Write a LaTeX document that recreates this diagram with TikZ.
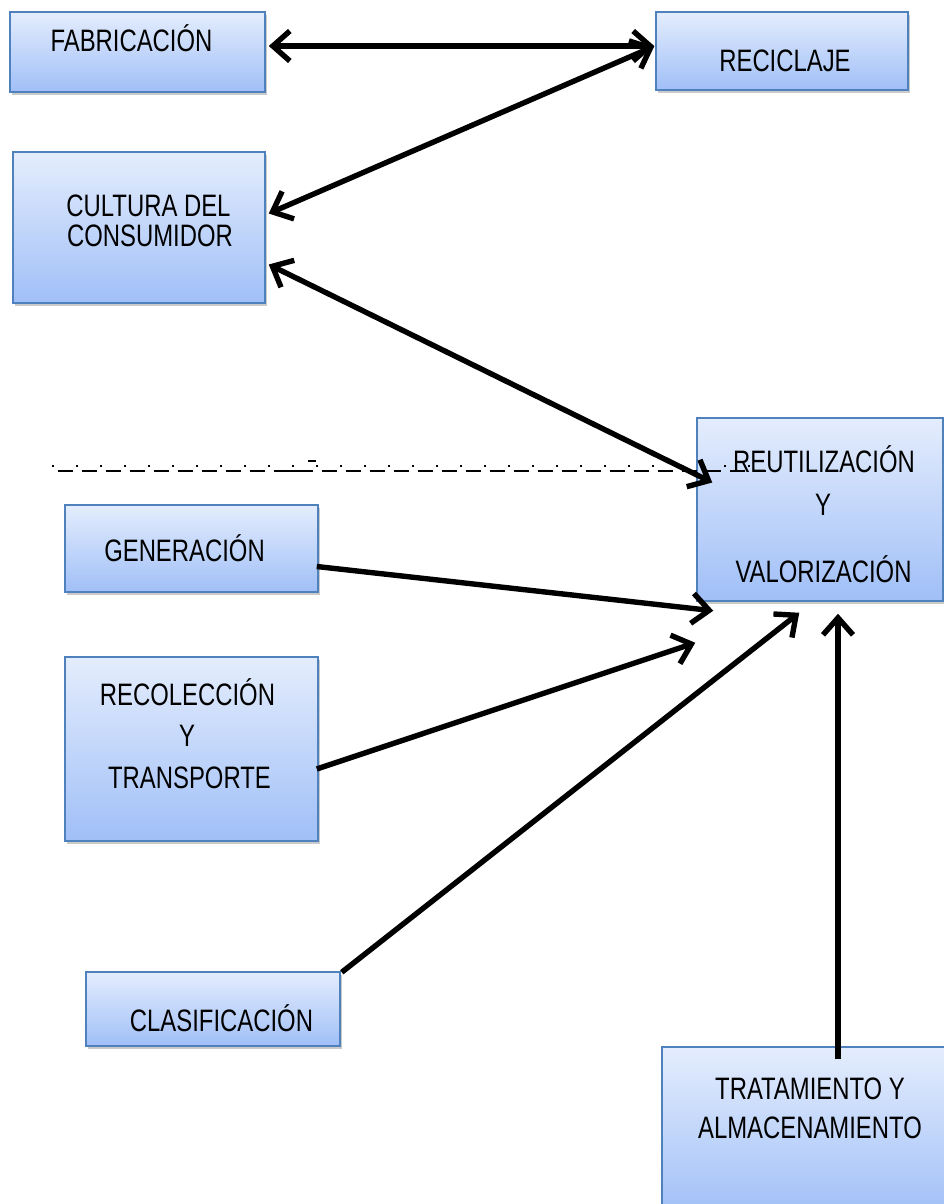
\documentclass[tikz,border=0pt]{standalone}
\usepackage{fontspec}
\setmainfont[FakeStretch=0.77]{Liberation Sans}
\usetikzlibrary{arrows.meta,shadows}
\definecolor{boxtop}{RGB}{228,237,253}
\definecolor{boxbot}{RGB}{160,191,247}
\definecolor{boxline}{RGB}{79,129,189}

\begin{document}
\begin{tikzpicture}[x=1pt,y=-1pt,
  box/.style={rectangle, draw=boxline, line width=1.5pt, inner sep=0pt,
    top color=boxtop, bottom color=boxbot,
    drop shadow={shadow xshift=2pt, shadow yshift=-3pt, opacity=0.35, fill=black!60}},
  lbl/.style={anchor=base, inner sep=0pt, font=\fontsize{31}{31}\selectfont},
  barb/.tip={Straight Barb[length=17pt, width=30pt, line width=5.4pt]},
  link/.style={line width=5.4pt, -barb},
  dlink/.style={line width=5.4pt, barb-barb},
  rule/.style={line width=1.8pt}]

\useasboundingbox (0,0) rectangle (944,1204);
\clip (0,0) rectangle (944,1204);

% boxes
\node[box, minimum width=255pt, minimum height=80pt]  (fab)  at (137.5,52)   {};
\node[box, minimum width=252pt, minimum height=78pt]  (rec)  at (782,51)     {};
\node[box, minimum width=252pt, minimum height=151pt] (cul)  at (139,227.5)  {};
\node[box, minimum width=246pt, minimum height=183pt] (reu)  at (820,509.5)  {};
\node[box, minimum width=253pt, minimum height=87pt]  (gen)  at (191.5,548.5){};
\node[box, minimum width=253pt, minimum height=184pt] (rco)  at (191.5,749)  {};
\node[box, minimum width=254pt, minimum height=74pt]  (cla)  at (213,1009)   {};
\node[box, minimum width=290pt, minimum height=170pt] (tra)  at (807,1132)   {};

% labels
\node[lbl] (fabT)  at (131.5,52)  {FABRICACIÓN};
\node[lbl] (recT)  at (785,72)    {RECICLAJE};
\node[lbl] (culT1) at (148.5,216) {CULTURA DEL};
\node[lbl] (culT2) at (150,246)   {CONSUMIDOR};
\node[lbl] (genT)  at (184.5,561) {GENERACIÓN};
\node[lbl] (rcoT1) at (187.5,705) {RECOLECCIÓN};
\node[lbl] (rcoT2) at (187,746)   {Y};
\node[lbl] (rcoT3) at (189.5,788) {TRANSPORTE};
\node[lbl] (claT)  at (221.5,1031){CLASIFICACIÓN};
\node[lbl] (traT1) at (810,1099)  {TRATAMIENTO Y};
\node[lbl] (traT2) at (810,1138)  {ALMACENAMIENTO};

% dash-dot separator
\draw[rule, dash pattern=on 15pt off 9pt, dash phase=0pt] (58,471) -- (766,471);
\draw[line width=2.4pt, dash pattern=on 2.4pt off 21.6pt] (52,466) -- (766,466);
\draw[rule] (275,471) -- (307,471);
\draw[rule] (308,461) -- (316,461);

\node[lbl] (reuT1) at (824,472)   {REUTILIZACIÓN};
\node[lbl] (reuT2) at (823,515)   {Y};
\node[lbl] (reuT3) at (823.5,582) {VALORIZACIÓN};

% connectors
\draw[dlink] ([xshift=3pt,yshift=6pt]fab.east) -- ([xshift=-1pt,yshift=5pt]rec.west);
\draw[dlink] ([xshift=3pt,yshift=14pt]cul.east) -- ([xshift=-1pt,yshift=-35pt]rec.north west);
\draw[dlink] ([xshift=3pt,yshift=-37pt]cul.east) -- ([xshift=16pt,yshift=27pt]reu.west);
\draw[link] ([xshift=-2pt,yshift=-18pt]gen.east) -- ([xshift=17pt,yshift=-9pt]reu.south west);
\draw[link] ([xshift=-2pt,yshift=-20pt]rco.east) -- ([xshift=-1pt,yshift=-41pt]reu.south west);
\draw[link] ([xshift=1pt,yshift=-1pt]cla.north east) -- ([xshift=103pt,yshift=-11pt]reu.south west);
\draw[link] ([xshift=31pt,yshift=-13pt]tra.north) -- ([xshift=18pt,yshift=-12pt]reu.south);
\end{tikzpicture}
\end{document}
